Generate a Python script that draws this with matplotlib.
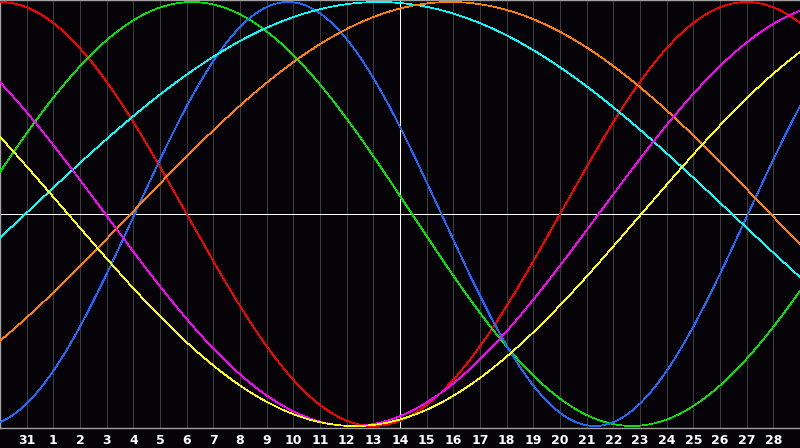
import numpy as np
import matplotlib
matplotlib.use("Agg")
import matplotlib.pyplot as plt

# day labels along the bottom (one per gridline)
day_labels = ["31"] + [str(d) for d in range(1, 29)]
today_index = 15          # position of "14", the white marker line

# cycles: length in days and day of the crest (index units)
cycle_names = ["emotional", "intellectual", "physical", "spiritual",
               "awareness", "intuitive", "aesthetic"]
cycle_length = [28, 33, 23, 53, 48, 37, 43]
cycle_peak = [0.0, 7.2, 10.8, 14.2, 16.9, -5.3, -8.2]
cycle_color = ["#ff0000", "#00e600", "#1a6cff", "#00ffff",
               "#ff8000", "#ff00ff", "#ffff00"]

bg = "#050308"
fig = plt.figure(figsize=(8, 4.48), dpi=100, facecolor=bg)
ax = fig.add_axes([0, 20 / 448, 1, 428 / 448])
ax.set_facecolor(bg)

n_days = 30
ax.set_xlim(0, n_days)
lim = 214 / 212
ax.set_ylim(-lim, lim)

px = 0.5
for i in range(1, n_days):
    ax.axvline(i, color="#3c3c3c", lw=px, antialiased=False, zorder=1)

t = np.linspace(0, n_days, 1601)
for length, peak, col in zip(cycle_length, cycle_peak, cycle_color):
    ax.plot(t, np.cos(2 * np.pi * (t - peak) / length), color=col,
            lw=px, antialiased=False, zorder=3)

ax.axhline(0, color="white", lw=px, antialiased=False, zorder=2)
ax.axvline(today_index, color="white", lw=px, antialiased=False, zorder=2)

ax.spines["right"].set_visible(False)
for side in ["left", "top", "bottom"]:
    ax.spines[side].set_color("#a0a0a0")
    ax.spines[side].set_linewidth(1.0)

ax.set_yticks([])
ax.set_xticks(range(1, n_days))
ax.set_xticklabels(day_labels, color="white", fontsize=9, fontweight="bold",
                   family="DejaVu Sans")
ax.tick_params(axis="x", length=0, pad=4)

fig.savefig("out.png", dpi=100, facecolor=bg)
